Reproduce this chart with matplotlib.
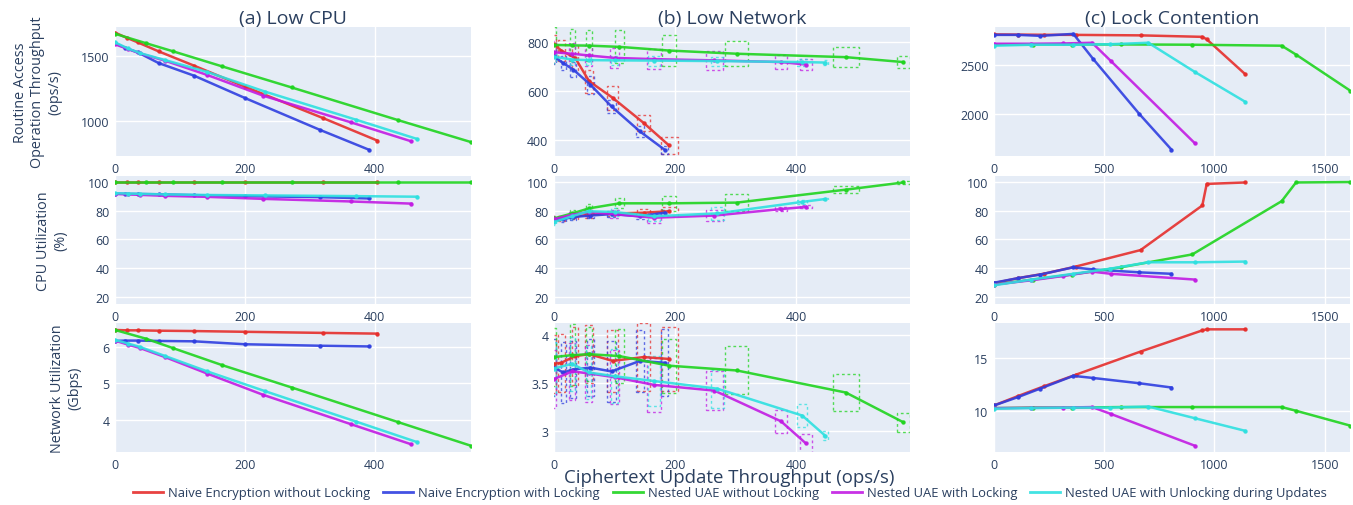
import numpy as np
import matplotlib
matplotlib.use("Agg")
import matplotlib.pyplot as plt
from matplotlib.patches import Rectangle
from matplotlib.ticker import FuncFormatter

plt.rcParams['font.family'] = ['Open Sans', 'DejaVu Sans']

names = ["Naive Encryption without Locking", "Naive Encryption with Locking",
         "Nested UAE without Locking", "Nested UAE with Locking",
         "Nested UAE with Unlocking during Updates"]
colors = ["#e62e2c", "#2f3fe0", "#1fd41f", "#c21be3", "#2ee0e0"]

# ---- (a) Low CPU ----
a_x_red = [0, 18, 35, 67, 122, 200, 320, 404]
a_x_blue = [0, 16, 35, 67, 122, 200, 315, 391]
a_x_green = [0, 48, 90, 165, 272, 435, 548]
a_x_mag = [0, 20, 38, 77, 142, 228, 363, 456]
a_x_cyan = [0, 20, 38, 77, 142, 231, 371, 465]

a_thr_red = [1680, 1640, 1605, 1536, 1425, 1264, 1023, 849]
a_thr_blue = [1598, 1562, 1528, 1446, 1348, 1177, 933, 779]
a_thr_green = [1671, 1598, 1535, 1420, 1258, 1008, 838]
a_thr_mag = [1590, 1554, 1520, 1464, 1354, 1195, 990, 844]
a_thr_cyan = [1605, 1558, 1523, 1469, 1377, 1226, 1010, 862]

a_cpu_red = [100, 100, 100, 100, 100, 100, 100, 100]
a_cpu_blue = [91.8, 91.6, 91.5, 91.3, 90.7, 90.0, 89.3, 88.4]
a_cpu_green = [100, 100, 100, 100, 100, 100, 100]
a_cpu_mag = [91.5, 91.2, 90.9, 90.2, 89.5, 88.1, 86.3, 84.8]
a_cpu_cyan = [92.0, 91.8, 91.6, 91.2, 90.8, 90.5, 90.0, 89.6]

a_net_red = [6.46, 6.45, 6.45, 6.44, 6.43, 6.41, 6.38, 6.36]
a_net_blue = [6.16, 6.17, 6.17, 6.16, 6.15, 6.07, 6.03, 6.01]
a_net_green = [6.46, 6.22, 5.96, 5.50, 4.89, 3.95, 3.30]
a_net_mag = [6.17, 6.06, 5.97, 5.72, 5.27, 4.69, 3.89, 3.34]
a_net_cyan = [6.19, 6.09, 6.00, 5.75, 5.33, 4.79, 3.96, 3.40]

# ---- (b) Low Network (with error boxes) ----
b_x_red = [0, 12, 35, 58, 97, 148, 190]
b_x_blue = [0, 15, 32, 60, 95, 142, 183]
b_x_green = [0, 30, 58, 108, 190, 302, 482, 577]
b_x_mag = [0, 30, 57, 100, 165, 265, 375, 416]
b_x_cyan = [0, 30, 57, 100, 165, 270, 410, 448]
b_xerr_red = [4, 6, 5, 7, 9, 11, 14]
b_xerr_blue = [3, 4, 5, 6, 8, 7, 6]
b_xerr_green = [3, 4, 5, 7, 12, 19, 21, 11]
b_xerr_mag = [3, 5, 5, 7, 12, 14, 10, 10]
b_xerr_cyan = [3, 4, 4, 6, 10, 10, 8, 4]

b_thr_red = [790, 765, 735, 640, 572, 470, 378]
b_thr_blue = [741, 714, 687, 626, 537, 435, 360]
b_thr_green = [788, 786, 785, 780, 765, 752, 738, 718]
b_thr_mag = [758, 752, 745, 735, 730, 725, 718, 708]
b_thr_cyan = [740, 728, 726, 725, 724, 722, 718, 716]
b_thr_err_red = [40, 42, 50, 47, 48, 34, 36]
b_thr_err_blue = [30, 28, 30, 37, 25, 21, 17]
b_thr_err_green = [75, 65, 63, 67, 62, 52, 40, 26]
b_thr_err_mag = [45, 44, 42, 41, 41, 38, 27, 22]
b_thr_err_cyan = [25, 20, 20, 18, 20, 18, 14, 10]

b_cpu_red = [74, 74.5, 76, 77, 78, 78.5, 79.5]
b_cpu_blue = [73.5, 74, 75.5, 76.5, 77.5, 76, 78.5]
b_cpu_green = [74.5, 78, 81.5, 85, 85, 85.5, 94.5, 99.5]
b_cpu_mag = [74, 77, 79, 77.5, 75, 76.5, 81, 82.5]
b_cpu_cyan = [72, 76, 79.5, 79, 76, 78, 86, 88]
b_cpu_err_red = [2, 2, 2, 2, 2, 2.5, 3]
b_cpu_err_blue = [2, 2, 2, 2, 2, 2, 2]
b_cpu_err_green = [2, 2.5, 3, 3.5, 5.3, 6, 2.5, 1]
b_cpu_err_mag = [2, 2, 2.5, 3, 3.5, 4, 1.5, 1]
b_cpu_err_cyan = [2, 2, 2, 2.5, 3, 4.5, 1.5, 1]

b_net_red = [3.70, 3.71, 3.78, 3.80, 3.73, 3.77, 3.75]
b_net_blue = [3.66, 3.61, 3.64, 3.66, 3.62, 3.73, 3.71]
b_net_green = [3.77, 3.79, 3.80, 3.78, 3.68, 3.63, 3.40, 3.09]
b_net_mag = [3.54, 3.62, 3.60, 3.56, 3.48, 3.42, 3.10, 2.87]
b_net_cyan = [3.65, 3.70, 3.61, 3.57, 3.52, 3.44, 3.16, 2.95]
b_net_err_red = [0.3, 0.3, 0.3, 0.3, 0.32, 0.35, 0.33]
b_net_err_blue = [0.3, 0.32, 0.3, 0.3, 0.32, 0.32, 0.35]
b_net_err_green = [0.3, 0.32, 0.28, 0.28, 0.28, 0.25, 0.19, 0.1]
b_net_err_mag = [0.3, 0.3, 0.3, 0.28, 0.28, 0.2, 0.12, 0.1]
b_net_err_cyan = [0.28, 0.28, 0.28, 0.28, 0.26, 0.2, 0.12, 0.05]

# ---- (c) Lock Contention ----
c_x_red = [0, 110, 225, 370, 665, 945, 965, 1140]
c_x_blue = [0, 110, 210, 360, 450, 660, 805]
c_x_green = [0, 178, 352, 575, 900, 1305, 1370, 1615]
c_x_mag = [0, 170, 315, 445, 530, 910]
c_x_cyan = [0, 170, 360, 525, 700, 910, 1140]

c_thr_red = [2810, 2808, 2806, 2805, 2800, 2785, 2760, 2405]
c_thr_blue = [2805, 2805, 2795, 2815, 2560, 2000, 1640]
c_thr_green = [2705, 2707, 2707, 2708, 2705, 2695, 2605, 2240]
c_thr_mag = [2715, 2715, 2718, 2725, 2540, 1707]
c_thr_cyan = [2695, 2705, 2705, 2710, 2725, 2430, 2125]

c_cpu_red = [29.5, 33, 36, 41, 52.5, 83.5, 98.5, 99.5]
c_cpu_blue = [29.8, 33, 35.5, 40.5, 39, 37, 36]
c_cpu_green = [28.5, 32, 35.5, 40.5, 49.5, 86.5, 99.5, 99.8]
c_cpu_mag = [28.5, 31.5, 34.5, 37.5, 36, 32]
c_cpu_cyan = [28, 32, 36, 39.5, 44, 44, 44.5]

c_net_red = [10.5, 11.4, 12.3, 13.4, 15.6, 17.6, 17.7, 17.7]
c_net_blue = [10.5, 11.3, 12.1, 13.3, 13.1, 12.6, 12.2]
c_net_green = [10.25, 10.3, 10.3, 10.35, 10.35, 10.35, 10.0, 8.6]
c_net_mag = [10.25, 10.28, 10.3, 10.35, 9.7, 6.7]
c_net_cyan = [10.2, 10.25, 10.3, 10.3, 10.4, 9.3, 8.1]

col_titles = ["(a) Low CPU", "(b) Low Network", "(c) Lock Contention"]
row_labels = ["Routine Access\nOperation Throughput\n(ops/s)", "CPU Utilization\n(%)",
              "Network Utilization\n(Gbps)"]
xlims = [(0, 548), (0, 588), (0, 1615)]
xticks = [[0, 200, 400], [0, 200, 400], [0, 500, 1000, 1500]]
ylims = [[(731, 1723), (335, 861), (1575, 2885)],
         [(15, 104), (15, 104), (15, 104)],
         [(3.13, 6.65), (2.78, 4.125), (6.1, 18.3)]]
yticks = [[[1000, 1500], [400, 600, 800], [2000, 2500]],
          [[20, 40, 60, 80, 100]] * 3,
          [[4, 5, 6], [3, 3.5, 4], [10, 15]]]

xs = [[a_x_red, a_x_blue, a_x_green, a_x_mag, a_x_cyan],
      [b_x_red, b_x_blue, b_x_green, b_x_mag, b_x_cyan],
      [c_x_red, c_x_blue, c_x_green, c_x_mag, c_x_cyan]]
ys = [[[a_thr_red, a_thr_blue, a_thr_green, a_thr_mag, a_thr_cyan],
       [b_thr_red, b_thr_blue, b_thr_green, b_thr_mag, b_thr_cyan],
       [c_thr_red, c_thr_blue, c_thr_green, c_thr_mag, c_thr_cyan]],
      [[a_cpu_red, a_cpu_blue, a_cpu_green, a_cpu_mag, a_cpu_cyan],
       [b_cpu_red, b_cpu_blue, b_cpu_green, b_cpu_mag, b_cpu_cyan],
       [c_cpu_red, c_cpu_blue, c_cpu_green, c_cpu_mag, c_cpu_cyan]],
      [[a_net_red, a_net_blue, a_net_green, a_net_mag, a_net_cyan],
       [b_net_red, b_net_blue, b_net_green, b_net_mag, b_net_cyan],
       [c_net_red, c_net_blue, c_net_green, c_net_mag, c_net_cyan]]]
b_xerrs = [b_xerr_red, b_xerr_blue, b_xerr_green, b_xerr_mag, b_xerr_cyan]
b_yerrs = [[b_thr_err_red, b_thr_err_blue, b_thr_err_green, b_thr_err_mag, b_thr_err_cyan],
           [b_cpu_err_red, b_cpu_err_blue, b_cpu_err_green, b_cpu_err_mag, b_cpu_err_cyan],
           [b_net_err_red, b_net_err_blue, b_net_err_green, b_net_err_mag, b_net_err_cyan]]

txt = "#2a3f5f"
W, H = 1353, 506
fig = plt.figure(figsize=(W / 100, H / 100), dpi=100)

lefts = [115, 554, 994]
tops = [28, 177, 324]
bottoms = [157, 305, 453]
label_x = [38, 52, 66]

fmt = FuncFormatter(lambda v, p: "{:g}".format(v))

for r in range(3):
    for c in range(3):
        ax = fig.add_axes([lefts[c] / W, 1 - bottoms[r] / H, 356 / W, (bottoms[r] - tops[r]) / H])
        ax.set_facecolor("#e5ecf6")
        for s in ax.spines.values():
            s.set_visible(False)
        ax.grid(True, color="white", linewidth=1)
        ax.set_axisbelow(True)
        ax.tick_params(length=0, pad=4, labelsize=8.9, colors=txt)
        ax.set_xlim(*xlims[c])
        ax.set_xticks(xticks[c])
        ax.set_ylim(*ylims[r][c])
        ax.set_yticks(yticks[r][c])
        ax.yaxis.set_major_formatter(fmt)
        for k in range(5):
            x = xs[c][k]
            y = ys[r][c][k]
            ax.plot(x, y, color=colors[k], lw=1.8, alpha=0.9, marker="o", ms=2.2,
                    label=names[k] if (r == 0 and c == 0) else None)
            if c == 1:
                xe = b_xerrs[k]
                ye = b_yerrs[r][k]
                for xi, yi, dx, dy in zip(x, y, xe, ye):
                    ax.add_patch(Rectangle((xi - dx, yi - dy), 2 * dx, 2 * dy, fill=False,
                                           edgecolor=colors[k], lw=1.0, ls=(0, (2, 2)),
                                           alpha=0.75))
        if r == 0:
            ax.set_title(col_titles[c], fontsize=14, color=txt, pad=1)
    fig.text(label_x[r] / W, 1 - (tops[r] + bottoms[r]) / 2 / H, row_labels[r], rotation=90,
             ha="center", va="center", multialignment="center", fontsize=10.4, color=txt,
             linespacing=1.2)

fig.text(729 / W, 1 - 478 / H, "Ciphertext Update Throughput (ops/s)", ha="center",
         va="center", fontsize=13.4, color=txt)

handles, labels = fig.axes[0].get_legend_handles_labels()
leg = fig.legend(handles, labels, loc="center", bbox_to_anchor=(730 / W, 1 - 494 / H), ncol=5,
                 frameon=False, fontsize=9.35, handlelength=2.3, handletextpad=0.4,
                 columnspacing=1.0, labelcolor=txt)
for h in leg.legend_handles:
    h.set_marker("")
    h.set_linewidth(2)

fig.savefig("out.png", dpi=100)
